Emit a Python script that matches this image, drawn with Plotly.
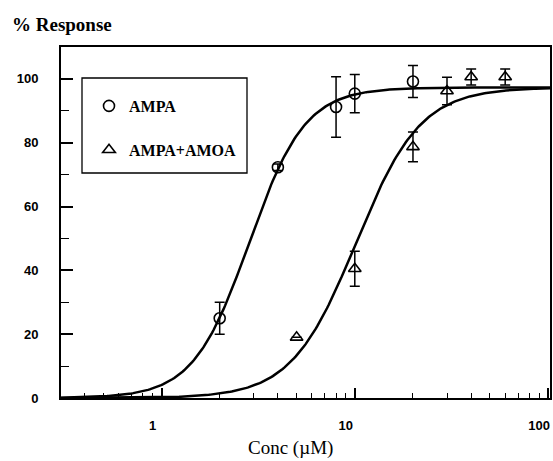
import numpy as np
import plotly.graph_objects as go

# AMPA data
ampa_conc = [2.0, 4.0, 8.0, 10.0, 20.0]
ampa_resp = [25.0, 72.3, 91.2, 95.4, 99.2]
ampa_err = [5.0, 1.0, 9.5, 6.0, 5.0]

# AMPA + AMOA data
amoa_conc = [5.0, 10.0, 20.0, 30.0, 40.0, 60.0]
amoa_resp = [19.0, 40.5, 78.7, 96.2, 100.6, 100.6]
amoa_err = [0.0, 5.5, 4.7, 4.3, 2.5, 2.5]

# fitted Hill curve parameters
fit_top = 97.3
ampa_ec50, ampa_n = 2.84, 3.0
amoa_ec50, amoa_n = 10.15, 2.6

x_tick_vals = [1, 10, 100]
x_tick_text = ["1", "10", "100"]
y_tick_vals = [0, 20, 40, 60, 80, 100]
y_tick_text = ["0", "20", "40", "60", "80", "100"]

xs = np.logspace(-0.52, 2.02, 300)
def hill(x, ec50, n):
    return fit_top / (1.0 + (ec50 / x) ** n)

fig = go.Figure()
fig.add_trace(go.Scatter(x=xs, y=hill(xs, ampa_ec50, ampa_n), mode="lines",
                         line=dict(color="black", width=2.5), showlegend=False, hoverinfo="skip"))
fig.add_trace(go.Scatter(x=xs, y=hill(xs, amoa_ec50, amoa_n), mode="lines",
                         line=dict(color="black", width=2.5), showlegend=False, hoverinfo="skip"))

fig.add_trace(go.Scatter(
    x=ampa_conc, y=ampa_resp, mode="markers", name="AMPA", legendgroup="a",
    marker=dict(symbol="circle-open", size=11, color="black", line=dict(width=1.6)),
    error_y=dict(type="data", array=ampa_err, color="black", thickness=1.5, width=5)))
fig.add_trace(go.Scatter(
    x=amoa_conc, y=amoa_resp, mode="markers", name="AMPA+AMOA", legendgroup="b",
    marker=dict(symbol="triangle-up-open", size=11, color="black", line=dict(width=1.6)),
    error_y=dict(type="data", array=amoa_err, color="black", thickness=1.5, width=5)))

# legend box
fig.add_shape(type="rect", xref="paper", yref="paper",
              x0=(82 - 61) / 489, x1=(247 - 61) / 489,
              y0=(398 - 173) / 351, y1=(398 - 78) / 351,
              line=dict(color="black", width=1.3), fillcolor="rgba(0,0,0,0)")

fig.update_layout(
    width=553, height=461,
    margin=dict(l=61, r=3, t=47, b=63),
    paper_bgcolor="white", plot_bgcolor="white",
    showlegend=True,
    legend=dict(x=(89 - 61) / 489, y=(398 - 89) / 351, xanchor="left", yanchor="top",
                bgcolor="rgba(0,0,0,0)", borderwidth=0, tracegroupgap=20,
                font=dict(family="Liberation Serif", size=16, color="black", weight="bold")),
    xaxis=dict(type="log", range=[-0.52, 2.01], automargin=False,
               tickvals=x_tick_vals, ticktext=x_tick_text,
               ticks="inside", ticklen=10, tickwidth=1.5, tickcolor="black",
               showline=True, linecolor="black", linewidth=2, mirror=True,
               showgrid=False, zeroline=False, ticklabelstandoff=14,
               ticklabeloverflow="allow", ticklabelshift=-9,
               tickfont=dict(family="Liberation Sans", size=13, color="black", weight="bold"),
               minor=dict(tickvals=[0.4, 0.5, 0.6, 0.7, 0.8, 0.9, 2, 3, 4, 5, 6, 7, 8, 9,
                                    20, 30, 40, 50, 60, 70, 80, 90],
                          ticks="inside", ticklen=5, tickwidth=1.2, tickcolor="black", showgrid=False)),
    yaxis=dict(range=[0, 110], automargin=False,
               tickvals=y_tick_vals, ticktext=y_tick_text,
               ticks="inside", ticklen=12, tickwidth=1.5, tickcolor="black",
               showline=True, linecolor="black", linewidth=2, mirror=True,
               showgrid=False, zeroline=False, ticklabelstandoff=18,
               tickfont=dict(family="Liberation Sans", size=13, color="black", weight="bold"),
               minor=dict(tickvals=[10, 30, 50, 70, 90], ticks="inside", ticklen=8,
                          tickwidth=1.2, tickcolor="black", showgrid=False)),
    annotations=[
        dict(text="% Response", xref="paper", yref="paper", x=-61 / 489, y=(398 - 24) / 351,
             xanchor="left", yanchor="middle", xshift=10, showarrow=False,
             font=dict(family="Liberation Serif", size=19, color="black", weight="bold")),
        dict(text="Conc (µM)", xref="paper", yref="paper", x=(290 - 61) / 489, y=(398 - 448) / 351,
             xanchor="center", yanchor="middle", showarrow=False,
             font=dict(family="Liberation Serif", size=19, color="black")),
    ],
)

fig.write_html("out.html")
